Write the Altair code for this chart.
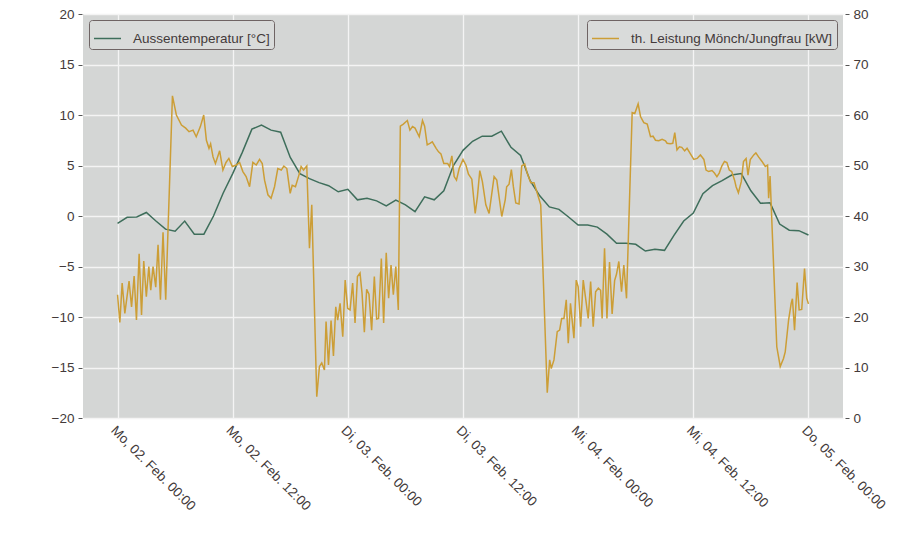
import json
import altair as alt
import pandas as pd

# Time axis: hours after Monday 02 Feb 2015 00:00 (UTC), stored as epoch ms
START_MS = 1422835200000
HOUR_MS = 3600000

tick_hours = [0, 12, 24, 36, 48, 60, 72]
tick_labels = [
    "Mo, 02. Feb. 00:00", "Mo, 02. Feb. 12:00",
    "Di, 03. Feb. 00:00", "Di, 03. Feb. 12:00",
    "Mi, 04. Feb. 00:00", "Mi, 04. Feb. 12:00",
    "Do, 05. Feb. 00:00",
]

temp_name = "Aussentemperatur [°C]"
power_name = "th. Leistung Mönch/Jungfrau [kW]"

# Outdoor temperature, hourly
temp_hours = list(range(73))
temp_values = [
    -0.72, -0.13, -0.1, 0.35, -0.5, -1.3, -1.5, -0.5, -1.8, -1.8,
    0.0, 2.25, 4.2, 6.3, 8.6, 9.0, 8.5, 8.3, 5.8, 4.2,
    3.7, 3.3, 3.0, 2.4, 2.64, 1.6, 1.75, 1.5, 1.0, 1.58,
    1.1, 0.43, 1.9, 1.6, 2.5, 5.0, 6.5, 7.4, 7.9, 7.9,
    8.4, 6.8, 6.0, 3.5, 2.0, 0.9, 0.66, -0.1, -0.9, -0.9,
    -1.1, -1.8, -2.7, -2.7, -2.8, -3.47, -3.3, -3.4, -1.9, -0.5,
    0.3, 2.2, 3.0, 3.5, 4.06, 4.2, 2.5, 1.26, 1.3, -0.8,
    -1.4, -1.45, -1.88,
]

# Thermal power output
power_hours = [
    0.0, 0.24, 0.48, 0.76, 1.2, 1.46, 1.73, 1.97, 2.25, 2.5,
    2.73, 3.0, 3.26, 3.46, 3.7, 3.98, 4.22, 4.47, 4.74, 5.02,
    5.72, 6.13, 6.66, 7.1, 7.45, 7.87, 8.2, 8.63, 8.98, 9.26,
    9.53, 9.7, 9.95, 10.2, 10.64, 10.98, 11.3, 11.6, 11.96, 12.38,
    12.72, 13.06, 13.4, 13.76, 14.1, 14.46, 14.8, 15.08, 15.32, 15.67,
    16.0, 16.36, 16.7, 17.06, 17.33, 17.64, 17.99, 18.2, 18.54, 18.9,
    19.13, 19.38, 19.72, 20.0, 20.24, 20.76, 21.04, 21.28, 21.56, 21.73,
    21.98, 22.25, 22.5, 22.74, 22.94, 23.19, 23.47, 23.72, 23.98, 24.23,
    24.5, 24.75, 25.0, 25.27, 25.48, 25.72, 25.96, 26.2, 26.48, 26.76,
    27.0, 27.2, 27.49, 27.73, 28.0, 28.25, 28.5, 28.74, 29.0, 29.26,
    29.47, 29.78, 30.2, 30.47, 30.74, 31.0, 31.44, 31.78, 32.0, 32.27,
    32.55, 32.8, 33.2, 33.45, 33.7, 34.0, 34.4, 34.6, 34.84, 35.08,
    35.32, 35.6, 36.0, 36.3, 36.57, 36.92, 37.27, 37.5, 37.75, 38.02,
    38.38, 38.72, 39.24, 39.52, 40.04, 40.4, 40.55, 40.8, 41.04, 41.25,
    41.5, 41.84, 42.12, 42.43, 42.7, 43.06, 43.4, 43.74, 44.1, 44.78,
    45.03, 45.2, 45.48, 45.82, 46.07, 46.28, 46.52, 46.76, 46.97, 47.2,
    47.56, 47.8, 48.0, 48.26, 48.53, 48.78, 49.05, 49.3, 49.57, 49.82,
    50.1, 50.34, 50.5, 50.75, 51.0, 51.27, 51.54, 51.8, 52.0, 52.24,
    52.52, 52.76, 53.04, 53.63, 53.9, 54.25, 54.5, 54.84, 55.2, 55.54,
    55.8, 56.06, 56.4, 56.75, 57.1, 57.27, 57.6, 57.86, 58.07, 58.3,
    58.55, 58.8, 59.1, 59.35, 59.7, 60.05, 60.4, 60.74, 61.1, 61.33,
    61.6, 61.95, 62.2, 62.46, 62.7, 62.97, 63.25, 63.5, 63.75, 64.0,
    64.3, 64.46, 64.7, 65.0, 65.23, 65.5, 65.7, 65.94, 66.3, 66.52,
    66.8, 67.16, 67.5, 67.74, 67.85, 68.0, 68.7, 69.06, 69.4, 69.58,
    69.93, 70.2, 70.33, 70.55, 70.82, 71.03, 71.3, 71.59, 71.82, 72.0,
]
power_values = [
    24.4, 18.9, 26.7, 20.7, 27.1, 22.0, 28.1, 19.4, 32.5, 20.4,
    31.1, 24.0, 30.0, 25.3, 30.0, 25.9, 34.3, 23.4, 36.8, 23.4,
    63.8, 60.0, 58.0, 57.4, 56.7, 57.0, 55.7, 57.7, 60.0, 55.0,
    53.4, 54.3, 51.7, 50.4, 52.9, 49.1, 50.6, 51.4, 49.8, 50.1,
    50.6, 48.8, 47.8, 45.8, 50.6, 50.1, 51.2, 50.4, 47.1, 44.2,
    43.5, 45.8, 49.4, 49.1, 49.9, 49.4, 44.5, 46.1, 45.8, 48.1,
    49.8, 49.1, 49.9, 33.6, 42.2, 4.2, 10.2, 10.9, 9.5, 19.1,
    10.5, 19.3, 12.3, 22.0, 19.4, 22.7, 16.1, 27.3, 21.7, 21.4,
    26.7, 18.8, 28.0, 28.7, 24.7, 17.0, 25.5, 24.5, 17.4, 28.0,
    19.6, 19.7, 31.6, 18.8, 32.7, 23.7, 30.3, 24.4, 30.0, 21.4,
    57.8, 58.2, 58.9, 57.0, 57.7, 57.4, 55.7, 58.9, 57.8, 54.1,
    54.4, 54.7, 53.4, 52.7, 52.3, 50.4, 50.4, 49.8, 51.9, 47.8,
    47.1, 49.4, 51.2, 50.1, 48.3, 47.3, 40.5, 43.8, 49.0, 46.8,
    42.2, 40.5, 47.8, 47.1, 39.9, 43.2, 45.8, 46.3, 49.2, 45.8,
    42.6, 42.4, 49.9, 50.3, 48.4, 46.6, 46.6, 44.5, 42.2, 5.0,
    11.5, 9.8, 11.5, 17.1, 17.4, 19.7, 19.7, 23.4, 14.8, 22.7,
    15.8, 27.3, 26.0, 18.1, 27.3, 23.7, 19.7, 27.0, 18.1, 25.0,
    25.7, 25.3, 19.7, 33.6, 19.7, 30.9, 20.6, 27.2, 28.5, 31.0,
    25.0, 30.3, 23.7, 60.5, 60.3, 62.2, 59.7, 58.5, 58.2, 55.7,
    55.8, 55.0, 54.9, 55.2, 54.9, 54.4, 54.3, 54.4, 56.5, 53.1,
    53.7, 53.6, 52.9, 53.4, 52.3, 51.2, 51.4, 52.1, 51.2, 49.1,
    48.8, 49.0, 48.5, 47.8, 48.5, 49.9, 50.8, 50.6, 49.1, 48.8,
    47.1, 45.8, 44.6, 46.8, 50.8, 51.4, 48.1, 51.2, 52.1, 52.5,
    51.7, 50.8, 49.8, 50.1, 43.5, 47.9, 14.1, 10.2, 11.8, 13.1,
    19.4, 22.7, 23.6, 17.4, 26.8, 21.4, 21.5, 29.6, 23.7, 22.6,
]

GREEN = "#3e6e5b"
GOLD = "#cc9e36"
BG = "#d4d6d5"
TEXT = "#433a3a"
TICK = "#555555"
FONT = "Liberation Sans"
FONT_SIZE = 13.5


def to_ms(hours):
    return [START_MS + h * HOUR_MS for h in hours]


df_temp = pd.DataFrame({"time": to_ms(temp_hours), "value": temp_values, "series": temp_name})
df_power = pd.DataFrame({"time": to_ms(power_hours), "value": power_values, "series": power_name})

label_expr = f"{json.dumps(tick_labels)}[round((datum.value - {START_MS}) / {12 * HOUR_MS})]"

x_enc = alt.X(
    "time:T",
    scale=alt.Scale(type="utc", domain=[START_MS - 3.6 * HOUR_MS, START_MS + 75.6 * HOUR_MS], nice=False),
    axis=alt.Axis(
        values=to_ms(tick_hours),
        labelExpr=label_expr,
        labelAngle=45,
        labelAlign="left",
        labelBaseline="top",
        labelPadding=5,
        ticks=False,
        domain=False,
        grid=True,
        title=None,
        labelFontSize=FONT_SIZE,
        labelColor=TEXT,
        labelFont=FONT,
        labelOverlap=False,
        labelFlush=False,
    ),
)

legend_common = dict(
    title=None,
    symbolType="stroke",
    symbolSize=729,
    symbolStrokeWidth=1.5,
    labelFontSize=FONT_SIZE,
    labelColor=TEXT,
    labelFont=FONT,
    labelLimit=400,
    labelOffset=11,
    padding=4,
    fillColor="#d9dbda",
    strokeColor="#6f6464",
    cornerRadius=3,
    offset=6,
)

temp_layer = alt.Chart(df_temp).mark_line(strokeWidth=1.5).encode(
    x=x_enc,
    y=alt.Y(
        "value:Q",
        scale=alt.Scale(domain=[-20, 20], nice=False, zero=False),
        axis=alt.Axis(
            orient="left",
            values=[-20, -15, -10, -5, 0, 5, 10, 15, 20],
            title=None,
            grid=True,
            domain=False,
            tickSize=4,
            tickColor=TICK,
            offset=1,
            labelPadding=4,
            labelFontSize=FONT_SIZE,
            labelColor=TEXT,
            labelFont=FONT,
        ),
    ),
    color=alt.Color(
        "series:N",
        scale=alt.Scale(domain=[temp_name], range=[GREEN]),
        legend=alt.Legend(orient="top-left", **legend_common),
    ),
)

power_layer = alt.Chart(df_power).mark_line(strokeWidth=1.5).encode(
    x=x_enc,
    y=alt.Y(
        "value:Q",
        scale=alt.Scale(domain=[0, 80], nice=False, zero=False),
        axis=alt.Axis(
            orient="right",
            values=[0, 10, 20, 30, 40, 50, 60, 70, 80],
            title=None,
            grid=False,
            domain=False,
            tickSize=4,
            tickColor=TICK,
            offset=2,
            labelPadding=4,
            labelFontSize=FONT_SIZE,
            labelColor=TEXT,
            labelFont=FONT,
        ),
    ),
    color=alt.Color(
        "series:N",
        scale=alt.Scale(domain=[power_name], range=[GOLD]),
        legend=alt.Legend(orient="top-right", **legend_common),
    ),
)

chart = (
    alt.layer(temp_layer, power_layer)
    .resolve_scale(y="independent", color="independent")
    .properties(
        width=760,
        height=404,
        autosize=alt.AutoSizeParams(type="none"),
        padding={"left": 83, "top": 14, "right": 57, "bottom": 117},
        background="white",
    )
    .configure_view(fill=BG, stroke=None)
    .configure_axis(gridColor="#f4f4f4", gridWidth=1.3)
)

chart.save("out.html", embed_options={"renderer": "svg", "actions": False})
